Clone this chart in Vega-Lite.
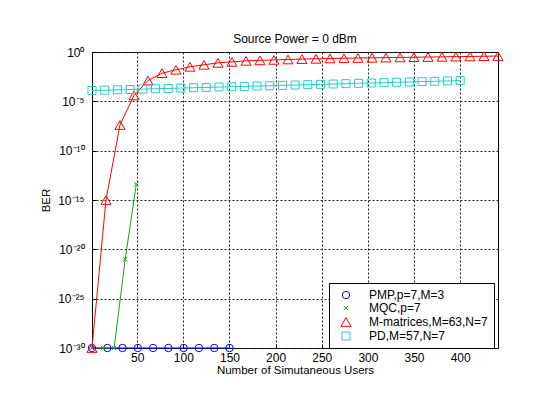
{
  "$schema": "https://vega.github.io/schema/vega-lite/v6.json",
  "width": 406,
  "height": 296,
  "autosize": {"type": "none"},
  "padding": {"left": 92, "top": 52, "right": 39, "bottom": 60},
  "background": "white",
  "config": {
    "font": "Liberation Sans",
    "view": {"stroke": "black", "strokeWidth": 1},
    "axis": {
      "labelFont": "Liberation Sans",
      "titleFont": "Liberation Sans",
      "labelColor": "black",
      "titleColor": "black",
      "labelFontSize": 12,
      "titleFontSize": 11.5,
      "titleFontWeight": "normal",
      "grid": true,
      "gridColor": "#222",
      "gridDash": [2, 2],
      "gridWidth": 1,
      "gridOpacity": 1,
      "domain": false,
      "ticks": true,
      "tickColor": "black",
      "tickSize": -4
    }
  },
  "title": {
    "text": "Source Power = 0 dBm",
    "fontSize": 12,
    "fontWeight": "normal",
    "font": "Liberation Sans",
    "color": "black",
    "offset": 0
  },
  "data": {
    "values": [
      {"series": "PMP,p=7,M=3", "x": 1, "ber": 1e-30},
      {"series": "PMP,p=7,M=3", "x": 17.56, "ber": 1e-30},
      {"series": "PMP,p=7,M=3", "x": 34.11, "ber": 1e-30},
      {"series": "PMP,p=7,M=3", "x": 50.67, "ber": 1e-30},
      {"series": "PMP,p=7,M=3", "x": 67.22, "ber": 1e-30},
      {"series": "PMP,p=7,M=3", "x": 83.78, "ber": 1e-30},
      {"series": "PMP,p=7,M=3", "x": 100.33, "ber": 1e-30},
      {"series": "PMP,p=7,M=3", "x": 116.89, "ber": 1e-30},
      {"series": "PMP,p=7,M=3", "x": 133.44, "ber": 1e-30},
      {"series": "PMP,p=7,M=3", "x": 150, "ber": 1e-30},
      {"series": "MQC,p=7", "x": 1, "ber": 1e-30},
      {"series": "MQC,p=7", "x": 13, "ber": 1e-30},
      {"series": "MQC,p=7", "x": 25, "ber": 1e-30},
      {"series": "MQC,p=7", "x": 37, "ber": 1e-21},
      {"series": "MQC,p=7", "x": 49, "ber": 3.98e-14},
      {"series": "M-matrices,M=63,N=7", "x": 1, "ber": 1e-30},
      {"series": "M-matrices,M=63,N=7", "x": 16.17, "ber": 1e-15},
      {"series": "M-matrices,M=63,N=7", "x": 31.34, "ber": 3.98e-8},
      {"series": "M-matrices,M=63,N=7", "x": 46.52, "ber": 3.98e-5},
      {"series": "M-matrices,M=63,N=7", "x": 61.69, "ber": 1.26e-3},
      {"series": "M-matrices,M=63,N=7", "x": 76.86, "ber": 7.08e-3},
      {"series": "M-matrices,M=63,N=7", "x": 92.03, "ber": 1.58e-2},
      {"series": "M-matrices,M=63,N=7", "x": 107.21, "ber": 3.16e-2},
      {"series": "M-matrices,M=63,N=7", "x": 122.38, "ber": 5.01e-2},
      {"series": "M-matrices,M=63,N=7", "x": 137.55, "ber": 7.94e-2},
      {"series": "M-matrices,M=63,N=7", "x": 152.72, "ber": 0.1},
      {"series": "M-matrices,M=63,N=7", "x": 167.9, "ber": 0.126},
      {"series": "M-matrices,M=63,N=7", "x": 183.07, "ber": 0.141},
      {"series": "M-matrices,M=63,N=7", "x": 198.24, "ber": 0.158},
      {"series": "M-matrices,M=63,N=7", "x": 213.41, "ber": 0.174},
      {"series": "M-matrices,M=63,N=7", "x": 228.59, "ber": 0.191},
      {"series": "M-matrices,M=63,N=7", "x": 243.76, "ber": 0.204},
      {"series": "M-matrices,M=63,N=7", "x": 258.93, "ber": 0.219},
      {"series": "M-matrices,M=63,N=7", "x": 274.1, "ber": 0.234},
      {"series": "M-matrices,M=63,N=7", "x": 289.28, "ber": 0.245},
      {"series": "M-matrices,M=63,N=7", "x": 304.45, "ber": 0.257},
      {"series": "M-matrices,M=63,N=7", "x": 319.62, "ber": 0.269},
      {"series": "M-matrices,M=63,N=7", "x": 334.79, "ber": 0.282},
      {"series": "M-matrices,M=63,N=7", "x": 349.97, "ber": 0.295},
      {"series": "M-matrices,M=63,N=7", "x": 365.14, "ber": 0.309},
      {"series": "M-matrices,M=63,N=7", "x": 380.31, "ber": 0.324},
      {"series": "M-matrices,M=63,N=7", "x": 395.48, "ber": 0.339},
      {"series": "M-matrices,M=63,N=7", "x": 410.66, "ber": 0.355},
      {"series": "M-matrices,M=63,N=7", "x": 425.83, "ber": 0.372},
      {"series": "M-matrices,M=63,N=7", "x": 441, "ber": 0.389},
      {"series": "PD,M=57,N=7", "x": 1, "ber": 1.26e-4},
      {"series": "PD,M=57,N=7", "x": 14.76, "ber": 1.35e-4},
      {"series": "PD,M=57,N=7", "x": 28.52, "ber": 1.48e-4},
      {"series": "PD,M=57,N=7", "x": 42.28, "ber": 1.58e-4},
      {"series": "PD,M=57,N=7", "x": 56.03, "ber": 1.74e-4},
      {"series": "PD,M=57,N=7", "x": 69.79, "ber": 1.86e-4},
      {"series": "PD,M=57,N=7", "x": 83.55, "ber": 2.04e-4},
      {"series": "PD,M=57,N=7", "x": 97.31, "ber": 2.19e-4},
      {"series": "PD,M=57,N=7", "x": 111.07, "ber": 2.4e-4},
      {"series": "PD,M=57,N=7", "x": 124.83, "ber": 2.57e-4},
      {"series": "PD,M=57,N=7", "x": 138.59, "ber": 2.82e-4},
      {"series": "PD,M=57,N=7", "x": 152.34, "ber": 3.02e-4},
      {"series": "PD,M=57,N=7", "x": 166.1, "ber": 3.24e-4},
      {"series": "PD,M=57,N=7", "x": 179.86, "ber": 3.55e-4},
      {"series": "PD,M=57,N=7", "x": 193.62, "ber": 3.8e-4},
      {"series": "PD,M=57,N=7", "x": 207.38, "ber": 4.17e-4},
      {"series": "PD,M=57,N=7", "x": 221.14, "ber": 4.47e-4},
      {"series": "PD,M=57,N=7", "x": 234.9, "ber": 4.9e-4},
      {"series": "PD,M=57,N=7", "x": 248.66, "ber": 5.25e-4},
      {"series": "PD,M=57,N=7", "x": 262.41, "ber": 5.75e-4},
      {"series": "PD,M=57,N=7", "x": 276.17, "ber": 6.17e-4},
      {"series": "PD,M=57,N=7", "x": 289.93, "ber": 6.61e-4},
      {"series": "PD,M=57,N=7", "x": 303.69, "ber": 7.24e-4},
      {"series": "PD,M=57,N=7", "x": 317.45, "ber": 7.76e-4},
      {"series": "PD,M=57,N=7", "x": 331.21, "ber": 8.51e-4},
      {"series": "PD,M=57,N=7", "x": 344.97, "ber": 9.12e-4},
      {"series": "PD,M=57,N=7", "x": 358.72, "ber": 1e-3},
      {"series": "PD,M=57,N=7", "x": 372.48, "ber": 1.07e-3},
      {"series": "PD,M=57,N=7", "x": 386.24, "ber": 1.17e-3},
      {"series": "PD,M=57,N=7", "x": 400, "ber": 1.26e-3}
    ]
  },
  "encoding": {
    "x": {
      "field": "x",
      "type": "quantitative",
      "scale": {"domain": [1, 441], "nice": false, "zero": false},
      "axis": {
        "title": "Number of Simutaneous Users",
        "values": [50, 100, 150, 200, 250, 300, 350, 400],
        "labelPadding": 8,
        "titlePadding": 1
      }
    },
    "y": {
      "field": "ber",
      "type": "quantitative",
      "scale": {"type": "log", "domain": [1e-30, 1], "nice": false},
      "axis": {
        "title": "BER",
        "values": [1e-30, 1e-25, 1e-20, 1e-15, 1e-10, 1e-5, 1],
        "labelExpr": "datum.value >= 0.5 ? '10⁰' : datum.value > 1e-7 ? '10⁻⁵' : datum.value > 1e-12 ? '10⁻¹⁰' : datum.value > 1e-17 ? '10⁻¹⁵' : datum.value > 1e-22 ? '10⁻²⁰' : datum.value > 1e-27 ? '10⁻²⁵' : '10⁻³⁰'",
        "labelPadding": 12,
        "titlePadding": 6
      }
    },
    "color": {
      "field": "series",
      "type": "nominal",
      "scale": {
        "domain": ["PMP,p=7,M=3", "MQC,p=7", "M-matrices,M=63,N=7", "PD,M=57,N=7"],
        "range": ["#0000ff", "#1e9e1e", "#ff0000", "#22cccc"]
      },
      "legend": {
        "title": null,
        "orient": "none",
        "legendX": 237,
        "legendY": 231,
        "strokeColor": "black",
        "fillColor": "white",
        "padding": 6,
        "labelFont": "Liberation Sans",
        "labelFontSize": 12,
        "labelColor": "black",
        "labelOffset": 17,
        "symbolOffset": 5,
        "labelLimit": 300,
        "rowPadding": 1,
        "symbolStrokeWidth": 1
      }
    }
  },
  "layer": [
    {
      "mark": {"type": "line", "strokeWidth": 1}
    },
    {
      "mark": {"type": "point", "filled": false, "strokeWidth": 1, "opacity": 1},
      "encoding": {
        "shape": {
          "field": "series",
          "type": "nominal",
          "legend": null,
          "scale": {
            "domain": ["PMP,p=7,M=3", "MQC,p=7", "M-matrices,M=63,N=7", "PD,M=57,N=7"],
            "range": ["circle", "M-1,-1L1,1M-1,1L1,-1", "triangle-up", "square"]
          }
        },
        "size": {
          "field": "series",
          "type": "nominal",
          "legend": null,
          "scale": {
            "type": "ordinal",
            "domain": ["PMP,p=7,M=3", "MQC,p=7", "M-matrices,M=63,N=7", "PD,M=57,N=7"],
            "range": [55, 20, 100, 64]
          }
        }
      }
    }
  ]
}
